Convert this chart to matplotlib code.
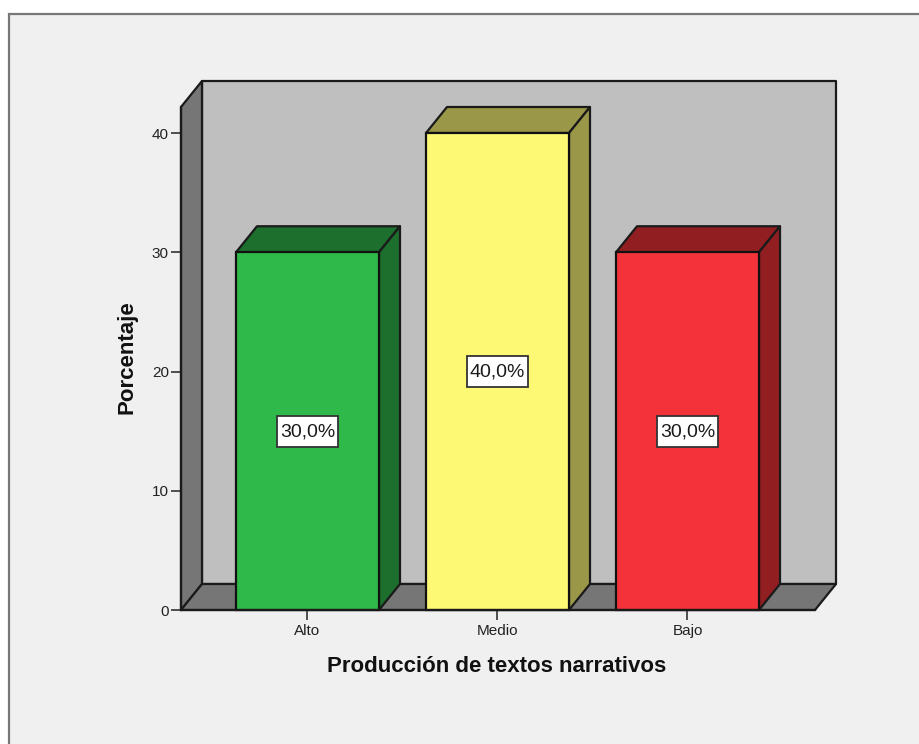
import matplotlib
matplotlib.use("Agg")
import matplotlib.pyplot as plt
from matplotlib.patches import Polygon, Rectangle

categories = ["Alto", "Medio", "Bajo"]
percentages = [30.0, 40.0, 30.0]
front_colors = ["#2fb94a", "#fdf975", "#f33339"]
top_colors = ["#1c6f2c", "#9a9848", "#911f22"]
value_labels = ["30,0%", "40,0%", "30,0%"]
y_ticks = [0, 10, 20, 30, 40]
x_title = "Producción de textos narrativos"
y_title = "Porcentaje"

W, H = 920, 744
plt.rcParams["font.family"] = ["Liberation Sans", "DejaVu Sans"]
fig = plt.figure(figsize=(W / 100, H / 100), dpi=100, facecolor="white")
fig.add_artist(Rectangle((9.5 / W, -0.05), (W + 20) / W, 1.05 - 13.5 / H, transform=fig.transFigure,
                         facecolor="#f0f0f0", edgecolor="#777777", lw=1.6, zorder=-1))

L, R, T, B = 181, 815, 107, 610
ax = fig.add_axes([L / W, 1 - B / H, (R - L) / W, (B - T) / H])
ax.patch.set_alpha(0)
xmin, xmax = (181 - 307.5) / 190, (815 - 307.5) / 190
ymax = (610 - 107) / 11.925
ax.set_xlim(xmin, xmax)
ax.set_ylim(0, ymax)
dx, dy = 21 / 190, 26 / 11.925
edge = dict(edgecolor="#1a1a1a", lw=1.6, clip_on=False, joinstyle="round")

# box walls
ax.add_patch(Polygon([(xmin + dx, dy), (xmax + dx, dy), (xmax + dx, ymax + dy), (xmin + dx, ymax + dy)],
                     facecolor="#bfbfbf", zorder=1, **edge))
ax.add_patch(Polygon([(xmin, 0), (xmin + dx, dy), (xmin + dx, ymax + dy), (xmin, ymax)],
                     facecolor="#767676", zorder=1.1, **edge))
ax.add_patch(Polygon([(xmin, 0), (xmax, 0), (xmax + dx, dy), (xmin + dx, dy)],
                     facecolor="#767676", zorder=1.1, **edge))

# bars
bw = 143 / 190
xs = range(len(categories))
ax.bar(xs, percentages, width=bw, color=front_colors, edgecolor="#111111", lw=1.6, zorder=3, clip_on=False)
for x, v, top in zip(xs, percentages, top_colors):
    l, r = x - bw / 2, x + bw / 2
    ax.add_patch(Polygon([(l, v), (r, v), (r + dx, v + dy), (l + dx, v + dy)], facecolor=top, zorder=2, **edge))
    ax.add_patch(Polygon([(r, 0), (r + dx, dy), (r + dx, v + dy), (r, v)], facecolor=top, zorder=2, **edge))

# value labels
box_w, box_h = 61 / 190, 31 / 11.925
for x, v, s in zip(xs, percentages, value_labels):
    ax.add_patch(Rectangle((x - box_w / 2, v / 2 - box_h / 2), box_w, box_h, facecolor="white",
                           edgecolor="#333333", lw=1.3, zorder=5))
    ax.annotate(s, (x, v / 2), xytext=(0, -0.7), textcoords="offset points", ha="center", va="center",
                fontsize=14, color="#1a1a1a", zorder=6)

for s in ("top", "right"):
    ax.spines[s].set_visible(False)
for s in ("left", "bottom"):
    ax.spines[s].set_linewidth(1.6)
    ax.spines[s].set_color("#1a1a1a")
    ax.spines[s].set_zorder(4)
ax.set_xticks(list(xs), categories)
ax.set_yticks(y_ticks)
ax.tick_params(axis="both", length=7.2, width=1.2, color="#333333", labelsize=11, labelcolor="#222222", pad=1.5)
ax.tick_params(axis="x", pad=3)

fig.text(496.5 / W, 1 - 666 / H, x_title, ha="center", va="center", fontsize=16, fontweight="bold", color="#111111")
fig.text(127 / W, 1 - 357.5 / H, y_title, ha="center", va="center", rotation=90, fontsize=16, fontweight="bold", color="#111111")

fig.savefig("out.png", dpi=100)
